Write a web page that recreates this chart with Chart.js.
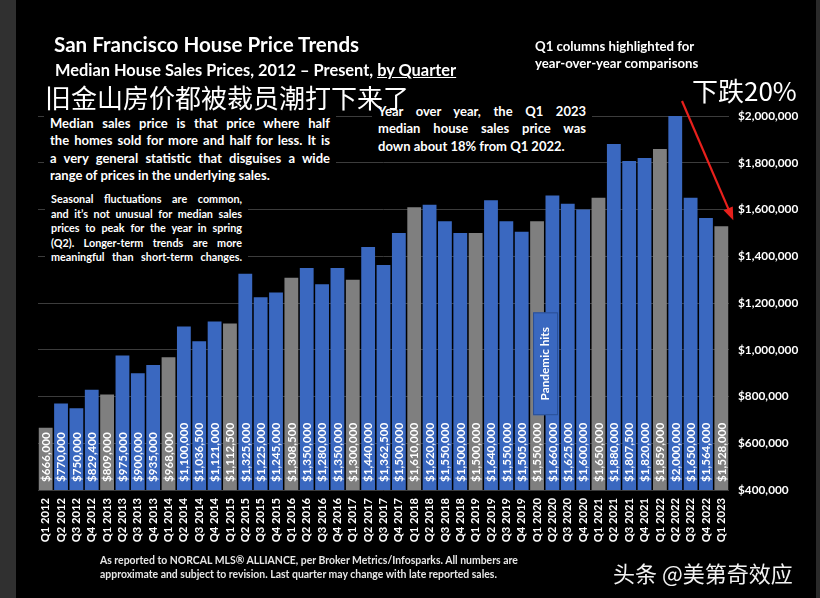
<!DOCTYPE html>
<html>
<head>
<meta charset="utf-8">
<script src="https://cdn.jsdelivr.net/npm/chart.js@4/dist/chart.umd.min.js"></script>
<style>
    body { margin: 0; background: #000; }
    #wrap { position: relative; width: 820px; height: 598px; overflow: hidden; background: #000; font-family: Lato, "Open Sans", sans-serif; color: #fff; }
    #strip { position: absolute; left: 0; top: 0; width: 16px; height: 598px; background: #303030; }
    #rstrip { position: absolute; right: 0; top: 0; width: 4px; height: 598px; background: #2a2a2a; }
    canvas { position: absolute; left: 0; top: 0; }
    .txt { position: absolute; font-weight: bold; white-space: nowrap; }
    .box { position: absolute; background: #000; font-weight: bold; }
    .box div { text-align: justify; text-align-last: justify; white-space: nowrap; }
    .box div.last { text-align-last: left; }
    .cjk { position: absolute; font-family: "Noto Sans CJK SC", sans-serif; font-weight: normal; white-space: nowrap; line-height: 1; z-index: 5; }
</style>
</head>
<body>
<div id="wrap">
    <div id="strip"></div>
    <div id="rstrip"></div>
    <canvas id="chart" width="820" height="598"></canvas>

    <div class="txt" style="left:54px; top:32px; font-size:20.6px;">San Francisco House Price Trends</div>
    <div class="txt" style="left:55px; top:60px; font-size:16.4px;">Median House Sales Prices, 2012 – Present, <span style="text-decoration:underline;">by Quarter</span></div>

    <div class="box" style="left:44px; top:115px; padding:0 6px; font-size:13px; line-height:17.3px;">
        <div style="width:280px;">Median sales price is that price where half</div>
        <div style="width:280px;">the homes sold for more and half for less. It is</div>
        <div style="width:280px;">a very general statistic that disguises a wide</div>
        <div class="last" style="width:280px;">range of prices in the underlying sales.</div>
    </div>

    <div class="box" style="left:45px; top:190px; padding:2px 6px; font-size:10.8px; line-height:14.6px;">
        <div style="width:191px;">Seasonal fluctuations are common,</div>
        <div style="width:191px;">and it’s not unusual for median sales</div>
        <div style="width:191px;">prices to peak for the year in spring</div>
        <div style="width:191px;">(Q2). Longer-term trends are more</div>
        <div style="width:191px;">meaningful than short-term changes.</div>
    </div>

    <div class="box" style="left:372px; top:103px; padding:0 6px; font-size:13px; line-height:17.3px;">
        <div style="width:208px;">Year over year, the Q1 2023</div>
        <div style="width:208px;">median house sales price was</div>
        <div class="last" style="width:208px;">down about 18% from Q1 2022.</div>
    </div>

    <div class="cjk" style="left:45px; top:84px; font-size:26px;">旧金山房价都被裁员潮打下来了</div>

    <div class="txt" style="left:535px; top:38px; font-size:13.2px; line-height:17px;">Q1 columns highlighted for<br>year-over-year comparisons</div>
    <div class="cjk" style="left:692px; top:77px; font-size:26px;">下跌20%</div>

    <div class="txt" style="left:100px; top:553px; font-size:10.45px; line-height:14px; color:#e6e6e6;">As reported to NORCAL MLS® ALLIANCE, per Broker Metrics/Infosparks. All numbers are<br>approximate and subject to revision. Last quarter may change with late reported sales.</div>
    <div class="cjk" style="left:613px; top:561px; font-size:22px; color:#f2f2f2;">头条 @美第奇效应</div>
</div>

<script>
const quarters = [
    "Q1 2012", "Q2 2012", "Q3 2012", "Q4 2012",
    "Q1 2013", "Q2 2013", "Q3 2013", "Q4 2013",
    "Q1 2014", "Q2 2014", "Q3 2014", "Q4 2014",
    "Q1 2015", "Q2 2015", "Q3 2015", "Q4 2015",
    "Q1 2016", "Q2 2016", "Q3 2016", "Q4 2016",
    "Q1 2017", "Q2 2017", "Q3 2017", "Q4 2017",
    "Q1 2018", "Q2 2018", "Q3 2018", "Q4 2018",
    "Q1 2019", "Q2 2019", "Q3 2019", "Q4 2019",
    "Q1 2020", "Q2 2020", "Q3 2020", "Q4 2020",
    "Q1 2021", "Q2 2021", "Q3 2021", "Q4 2021",
    "Q1 2022", "Q2 2022", "Q3 2022", "Q4 2022",
    "Q1 2023"
];

const medianPrices = [
    666000, 770000, 750000, 829400,
    809000, 975000, 900000, 935000,
    968000, 1100000, 1036500, 1121000,
    1112500, 1325000, 1225000, 1245000,
    1308500, 1350000, 1280000, 1350000,
    1300000, 1440000, 1362500, 1500000,
    1610000, 1620000, 1550000, 1500000,
    1500000, 1640000, 1550000, 1505000,
    1550000, 1660000, 1625000, 1600000,
    1650000, 1880000, 1807500, 1820000,
    1859000, 2000000, 1650000, 1564000,
    1528000
];

const yMin = 400000;
const yMax = 2000000;
const yStep = 200000;

const pandemicQuarter = "Q1 2020";

const BLUE = "#3a68c0";
const GREY = "#7f7f7f";

const money = (v) => "$" + v.toLocaleString("en-US");

const barColors = quarters.map((q) => (q.startsWith("Q1") ? GREY : BLUE));

// value labels inside bars, plus the pandemic note and red arrow
const overlayPlugin = {
    id: "overlay",
    afterDatasetsDraw(chart) {
        const ctx = chart.ctx;
        const meta = chart.getDatasetMeta(0);
        const base = chart.scales.y.getPixelForValue(yMin);

        ctx.save();
        ctx.fillStyle = "#ffffff";
        ctx.font = "bold 11.6px Lato, sans-serif";
        ctx.textAlign = "left";
        ctx.textBaseline = "middle";
        meta.data.forEach((bar, i) => {
            ctx.save();
            ctx.translate(bar.x + 0.5, base - 8);
            ctx.rotate(-Math.PI / 2);
            ctx.fillText(money(medianPrices[i]), 0, 0);
            ctx.restore();
        });

        // "Pandemic hits" box
        const pi = quarters.indexOf(pandemicQuarter);
        const px = chart.scales.x.getPixelForValue(pi);
        const top = chart.scales.y.getPixelForValue(1160000);
        const bottom = chart.scales.y.getPixelForValue(720000);
        const left = px - 4;
        const w = 25;
        ctx.fillStyle = BLUE;
        ctx.fillRect(left, top, w, bottom - top);
        ctx.strokeStyle = "#2a4f95";
        ctx.lineWidth = 1;
        ctx.strokeRect(left + 0.5, top + 0.5, w - 1, bottom - top - 1);
        ctx.save();
        ctx.translate(left + w / 2, (top + bottom) / 2);
        ctx.rotate(-Math.PI / 2);
        ctx.fillStyle = "#ffffff";
        ctx.font = "bold 11.8px Lato, sans-serif";
        ctx.textAlign = "center";
        ctx.textBaseline = "middle";
        ctx.fillText("Pandemic hits", 0, 0);
        ctx.restore();

        // red arrow towards the last bar
        const last = meta.data[meta.data.length - 1];
        const x1 = 682, y1 = 101;
        const x2 = last.x + 12, y2 = last.y - 6;
        const ang = Math.atan2(y2 - y1, x2 - x1);
        ctx.strokeStyle = "#e8201c";
        ctx.fillStyle = "#e8201c";
        ctx.lineWidth = 2.2;
        ctx.beginPath();
        ctx.moveTo(x1, y1);
        ctx.lineTo(x2 - 9 * Math.cos(ang), y2 - 9 * Math.sin(ang));
        ctx.stroke();
        ctx.beginPath();
        ctx.moveTo(x2, y2);
        ctx.lineTo(x2 - 13 * Math.cos(ang) + 5 * Math.sin(ang), y2 - 13 * Math.sin(ang) - 5 * Math.cos(ang));
        ctx.lineTo(x2 - 13 * Math.cos(ang) - 5 * Math.sin(ang), y2 - 13 * Math.sin(ang) + 5 * Math.cos(ang));
        ctx.closePath();
        ctx.fill();
        ctx.restore();
    },
};

new Chart(document.getElementById("chart").getContext("2d"), {
    type: "bar",
    data: {
        labels: quarters,
        datasets: [
            {
                data: medianPrices,
                backgroundColor: barColors,
                borderWidth: 0,
                barPercentage: 0.9,
                categoryPercentage: 1,
            },
        ],
    },
    options: {
        responsive: false,
        animation: false,
        layout: { padding: { left: 38, right: 4, top: 116, bottom: 0 } },
        plugins: {
            legend: { display: false },
            tooltip: { enabled: false },
        },
        scales: {
            x: {
                grid: { display: false },
                border: { display: false },
                ticks: {
                    color: "#ffffff",
                    font: { family: "Lato", weight: "bold", size: 11.2 },
                    minRotation: 90,
                    maxRotation: 90,
                    autoSkip: false,
                    padding: 0,
                },
                afterFit: (scale) => {
                    scale.height = 108;
                },
            },
            y: {
                position: "right",
                min: yMin,
                max: yMax,
                grid: { color: "#3c3c3c", lineWidth: 1, drawTicks: false },
                border: { display: false },
                ticks: {
                    stepSize: yStep,
                    color: "#ffffff",
                    font: { family: "Lato", weight: "bold", size: 11.8 },
                    padding: 9,
                    callback: (v) => money(v),
                },
                afterFit: (scale) => {
                    scale.width = 87;
                },
            },
        },
    },
    plugins: [overlayPlugin],
});
</script>
</body>
</html>
